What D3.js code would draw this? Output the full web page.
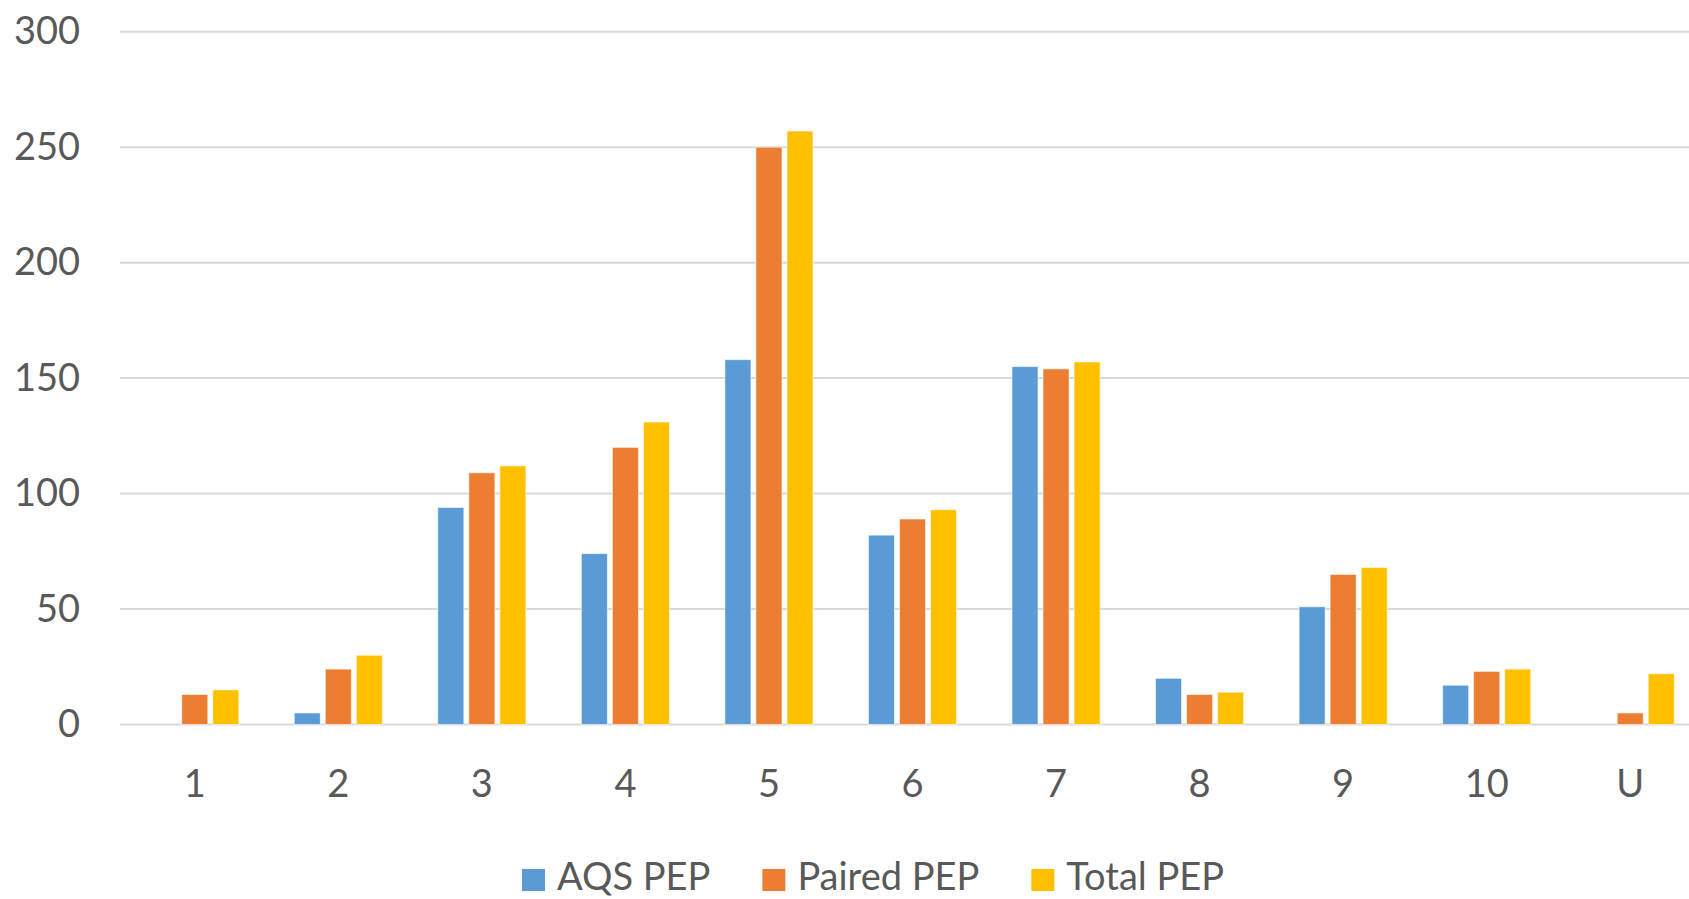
<!DOCTYPE html>
<html>
<head>
  <style>
    html, body { margin: 0; padding: 0; background: #fff; }
    svg text { font-family: Lato, "Open Sans", sans-serif; fill: #595959; }
    .tick text { font-size: 38px; }
    .legend text { font-size: 38px; }
  </style>
</head>
<body>
  <svg id="chart" width="1689" height="899"></svg>

  <script src="https://d3js.org/d3.v7.min.js"></script>
  <script>
    // data
    const categories = ["1", "2", "3", "4", "5", "6", "7", "8", "9", "10", "U"];
    const seriesNames = ["AQS PEP", "Paired PEP", "Total PEP"];
    const aqsPep    = [0, 5, 94, 74, 158, 82, 155, 20, 51, 17, 0];
    const pairedPep = [13, 24, 109, 120, 250, 89, 154, 13, 65, 23, 5];
    const totalPep  = [15, 30, 112, 131, 257, 93, 157, 14, 68, 24, 22];
    const yTicks = [0, 50, 100, 150, 200, 250, 300];
    const colors = ["#5B9BD5", "#ED7D31", "#FFC000"];

    const seriesValues = [aqsPep, pairedPep, totalPep];
    const rows = categories.map((c, i) => ({
      cat: c,
      vals: seriesNames.map((s, j) => ({ key: s, value: seriesValues[j][i] }))
    }));

    const svg = d3.select("#chart");
    const plotLeft = 120, plotRight = 1702;
    const plotTop = 31.7, plotBottom = 724.5;

    const x0 = d3.scaleBand()
      .domain(categories)
      .range([123, plotRight])
      .paddingInner(0.386)
      .paddingOuter(0.193);

    const x1 = d3.scaleBand()
      .domain(seriesNames)
      .range([0, x0.bandwidth()])
      .paddingInner(0.16);

    const y = d3.scaleLinear()
      .domain([0, 300])
      .range([plotBottom, plotTop]);

    const color = d3.scaleOrdinal().domain(seriesNames).range(colors);

    // gridlines
    svg.append("g")
      .selectAll("line")
      .data(yTicks)
      .enter()
      .append("line")
      .attr("x1", plotLeft)
      .attr("x2", plotRight)
      .attr("y1", d => y(d))
      .attr("y2", d => y(d))
      .attr("stroke", "#d9d9d9")
      .attr("stroke-width", 2);

    // y axis labels
    const yAxis = d3.axisLeft(y).tickValues(yTicks).tickSize(0).tickPadding(0);
    const yg = svg.append("g")
      .attr("transform", "translate(80,0)")
      .call(yAxis);
    yg.select(".domain").remove();
    yg.selectAll("text").attr("fill", null);

    // x axis labels
    const xAxis = d3.axisBottom(x0).tickSize(0).tickPadding(0);
    const xg = svg.append("g")
      .attr("transform", `translate(0,${plotBottom})`)
      .call(xAxis);
    xg.select(".domain").remove();
    xg.selectAll("text")
      .attr("fill", null)
      .attr("dy", null)
      .attr("y", 72);

    // bars
    const groups = svg.append("g")
      .selectAll("g")
      .data(rows)
      .enter()
      .append("g")
      .attr("transform", d => `translate(${x0(d.cat)},0)`);

    groups.selectAll("rect")
      .data(d => d.vals.filter(v => v.value > 0))
      .enter()
      .append("rect")
      .attr("x", d => x1(d.key))
      .attr("width", x1.bandwidth())
      .attr("y", d => y(d.value))
      .attr("height", d => y(0) - y(d.value))
      .attr("fill", d => color(d.key))
      .attr("stroke", "#fff")
      .attr("stroke-opacity", 0.6)
      .attr("stroke-width", 1);

    // legend
    const legend = svg.append("g").attr("class", "legend");
    let lx = 522;
    seriesNames.forEach((s, i) => {
      legend.append("rect")
        .attr("x", lx)
        .attr("y", 869)
        .attr("width", 23)
        .attr("height", 22)
        .attr("fill", color(s));
      const t = legend.append("text")
        .attr("x", lx + 35)
        .attr("y", 890)
        .text(s);
      lx += 35 + t.node().getComputedTextLength() + 52;
    });
  </script>
</body>
</html>
